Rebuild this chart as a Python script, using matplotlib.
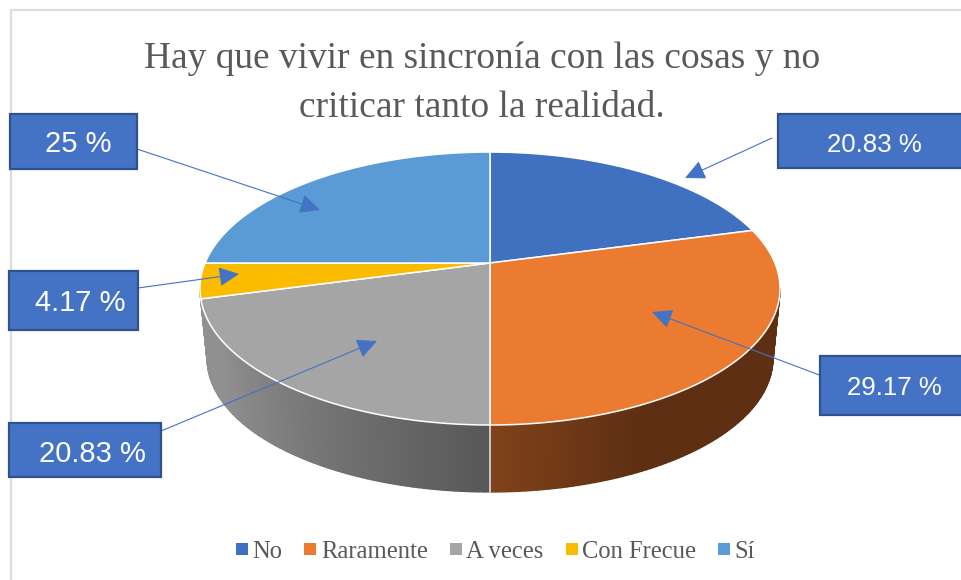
import numpy as np
import matplotlib
matplotlib.use("Agg")
import matplotlib.pyplot as plt
from matplotlib.patches import Patch, Rectangle

categories = ["No", "Raramente", "A veces", "Con Frecue", "Sí"]
values = [20.83, 29.17, 20.83, 4.17, 25.0]
colors = ["#4070C0", "#EB7B31", "#A5A5A5", "#FBBC00", "#5B9BD5"]
title = "Hay que vivir en sincronía con las cosas y no\ncriticar tanto la realidad."
callout_labels = ["20.83 %", "29.17 %", "20.83 %", "4.17 %", "25 %"]

W, H = 961, 580
fig = plt.figure(figsize=(W / 100, H / 100), dpi=100)
ax = fig.add_axes([0, 0, 1, 1])
ax.set_xlim(0, W)
ax.set_ylim(H, 0)
ax.axis("off")

# Projected pie geometry
CX, CY = 490.0, 263.0
K, A, B = 0.187, 284.9, 131.7
DEPTH, SCALE = 71.0, 0.975


def project(theta, radius=1.0):
    X, Y = radius * np.sin(theta), radius * np.cos(theta)
    d = 1 + K * Y
    return A * X / d, B * Y / d


def top(theta):
    u, v = project(theta)
    return CX + u, CY - v


def bottom(theta):
    u, v = project(theta)
    return CX + SCALE * u, CY - SCALE * v + DEPTH


def mix(c1, c2, f):
    return tuple((1 - f) * np.array(c1) + f * np.array(c2))


def side_color(i, deg):
    if i == 1:
        f = np.clip((180 - deg) / 26.0, 0, 1)
        return mix((0x80 / 255, 0x42 / 255, 0x1A / 255), (0x5E / 255, 0x2F / 255, 0x13 / 255), f)
    f = np.clip((deg - 180) / 58.0, 0, 1)
    return mix((0x58 / 255,) * 3, (0x90 / 255,) * 3, f)


fracs = np.array(values) / sum(values)
edges = np.concatenate([[0], np.cumsum(fracs)]) * 2 * np.pi
t_start = np.arccos(-K)
t_end = 2 * np.pi - t_start

# Side walls
for i in range(len(values)):
    a0, a1 = max(edges[i], t_start), min(edges[i + 1], t_end)
    if a1 <= a0:
        continue
    ts = np.linspace(a0, a1, max(int(np.degrees(a1 - a0)) + 1, 2))
    for t0, t1 in zip(ts[:-1], ts[1:]):
        sub = np.linspace(t0, t1, 3)
        tx, ty = top(sub)
        bx, by = bottom(sub)
        c = side_color(i, np.degrees((t0 + t1) / 2))
        ax.fill(np.r_[tx, bx[::-1]], np.r_[ty, by[::-1]], color=c, lw=1.0, zorder=2)

# White divider on the front wall
front = edges[2]
tx, ty = top(front)
bx, by = bottom(front)
ax.plot([tx, bx], [ty, by], color="#E8E8E8", lw=1.1, zorder=3)

# Top faces
for i, (a0, a1) in enumerate(zip(edges[:-1], edges[1:])):
    ts = np.linspace(a0, a1, 200)
    x, y = top(ts)
    ax.fill(np.r_[CX, x], np.r_[CY, y], facecolor=colors[i], edgecolor="white", lw=1.1, zorder=4, joinstyle="round")

# Chart frame
ax.plot([11, 11, W], [H, 10, 10], color="#DDDDDD", lw=1.6, zorder=1, solid_joinstyle="miter")

# Title
ax.text(482, 83, title, ha="center", va="center", family="Liberation Serif", fontsize=26.9,
        color="#595959", linespacing=1.54, zorder=5)

# Callouts: box (x0, y0, x1, y1), text centre, text size, arrow start and tip
boxes = [(778, 114, 965, 168), (820, 356, 965, 415), (9, 423, 161, 477), (9, 271, 138, 330), (10, 114, 137, 169)]
text_xy = [(874, 145), (894, 388), (92, 454), (80, 303), (78, 144)]
text_sizes = [18.6, 18.6, 21, 21, 21]
arrow_start = [(772, 138), (822, 376), (161, 431), (138, 288), (137, 149)]
arrow_tip = [(685, 178), (652, 312), (377, 341), (239, 274), (320, 210)]

for label, box, txy, fs, s, e in zip(callout_labels, boxes, text_xy, text_sizes, arrow_start, arrow_tip):
    ax.annotate("", xy=e, xytext=s, zorder=6,
                arrowprops=dict(arrowstyle="-|>,head_length=1.25,head_width=0.6", mutation_scale=10,
                                color="#4472C4", lw=0.8, shrinkA=0, shrinkB=0))
    ax.add_patch(Rectangle((box[0], box[1]), box[2] - box[0], box[3] - box[1], facecolor="#4472C4",
                           edgecolor="#2F528F", lw=1.6, zorder=7))
    ax.text(txy[0], txy[1], label, ha="center", va="center", color="white",
            family="Liberation Sans", fontsize=fs, zorder=8)

# Legend
handles = [Patch(facecolor=c, edgecolor="none", label=n) for c, n in zip(colors, categories)]
ax.legend(handles=handles, ncols=5, loc="center", bbox_to_anchor=(495.5 / W, 1 - 551.5 / H), frameon=False,
          prop={"family": "Liberation Serif", "size": 17.7}, labelcolor="#595959",
          handlelength=0.49, handleheight=0.377, handletextpad=0.18, columnspacing=0.9)

fig.savefig("out.png", dpi=100)
